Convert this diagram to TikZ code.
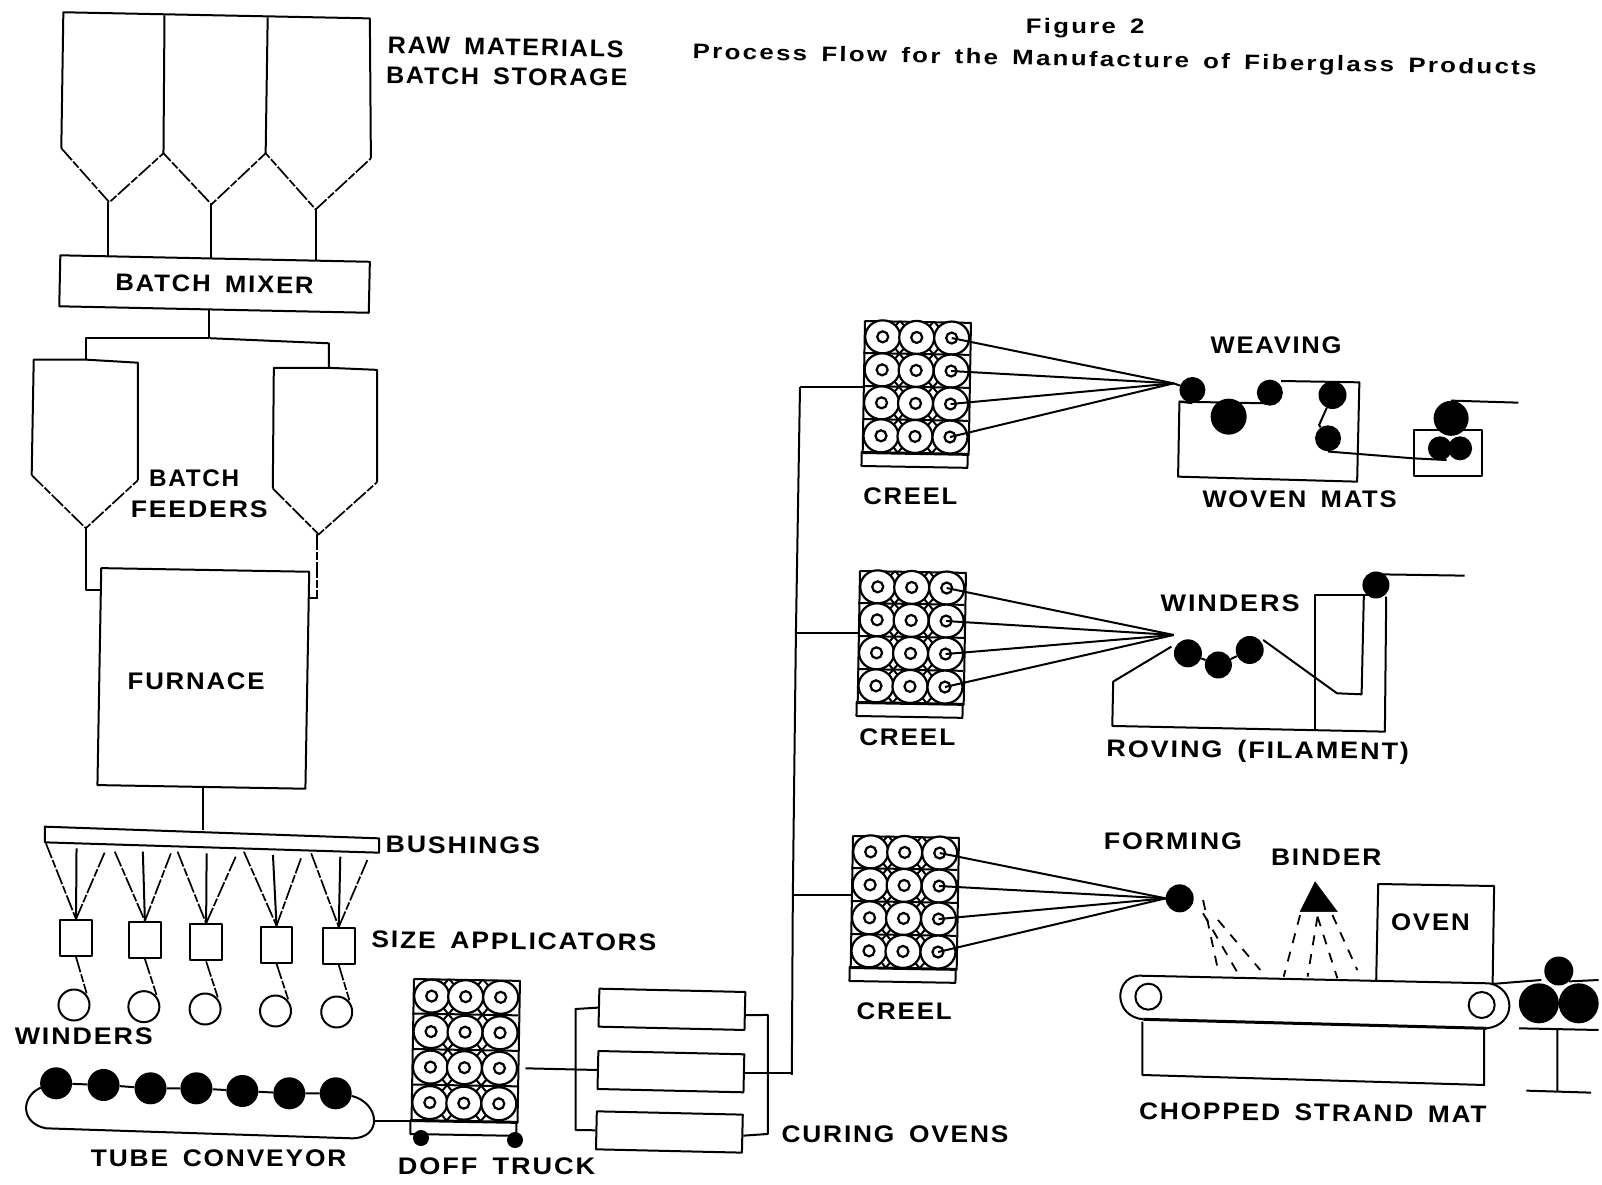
\documentclass[tikz,border=0pt]{standalone}
\usepackage{fontspec}
\usepackage{graphicx}
\usetikzlibrary{backgrounds,shapes.geometric}
\setmainfont{Liberation Sans}
\newfontfamily\lblfam{Liberation Sans}[LetterSpace=7,WordSpace=1.6]
\newfontfamily\ttlfam{Liberation Sans}[LetterSpace=9,WordSpace=1.5]
\newcommand\fw[2]{\resizebox{1.0217\dimexpr #1pt\relax}{\height}{#2}}
\newcommand\lbl[6]{\node[lbl,rotate=#4] (#1) at (#2,#3) {\fw{#5}{#6}};}
\tikzset{
  disp/.style={x=1.0217pt,y=-1.0217pt},
  cropa/.style={shift={(820,300)},x=.4476pt,y=-.3333pt},
  cropb/.style={shift={(820,810)},x=.4975pt,y=-.3333pt},
  cropc/.style={shift={(0,810)},x=.5102pt,y=-.3333pt},
  ln/.style={line width=2pt,line join=round},
  thick ln/.style={line width=3pt,line join=round},
  brk/.style={line width=1.7pt,dash pattern=on 16pt off 2pt on 8pt off 2pt},
  spray/.style={line width=1.8pt,dash pattern=on 10pt off 9pt},
  lbl/.style={inner sep=0pt,yshift=-1pt,font=\fontsize{24}{24}\lblfam\bfseries},
  ttl/.style={inner sep=0pt,font=\fontsize{21}{21}\ttlfam\bfseries},
  bx/.style={draw,ln,fill=white,rectangle,inner sep=0pt},
  spool/.style={draw,line width=2.2pt,ellipse,inner sep=0pt,minimum width=35pt,minimum height=33pt,fill=white},
  hub/.style={draw,line width=2.2pt,circle,inner sep=0pt,minimum size=11pt},
  roll/.style={circle,fill=black,inner sep=0pt,minimum size=#1},
  winder/.style={draw,ln,circle,inner sep=0pt,minimum size=31pt},
  sizebox/.style={bx,minimum width=31.6pt,minimum height=36pt},
  ovenbox/.style={bx,minimum width=146pt,minimum height=38pt,rotate=-1.3},
}
\newcommand\creel[4]{%
  \begin{scope}[shift={(#2,#3)},rotate=-1]
    \node[draw,ln,rectangle,rotate=-1,anchor=north west,inner sep=0pt,minimum width=106pt,minimum height=#4*4 pt] (#1) at (0,0) {};
    \draw[ln] (0,#4*4) rectangle (106,#4*4+14);
    \coordinate (#1base) at (0,#4*4+7);
    \foreach \ri in {1,2,3}{\draw[ln] (0,#4*\ri) -- (106,#4*\ri);}
    \begin{scope}
      \clip (0,0) rectangle (106,#4*4);
      \foreach \xi in {36,70}{\foreach \ri in {0,1,2,3,4}{
        \draw[ln] (\xi-6,#4*\ri-7) -- (\xi+6,#4*\ri+7) (\xi+6,#4*\ri-7) -- (\xi-6,#4*\ri+7);}}
    \end{scope}
    \foreach \ri in {1,2,3,4}{\foreach \ci/\xi in {1/19,2/53,3/88}{
      \node[spool] (#1-\ri-\ci) at (\xi,#4*\ri-#4/2) {};
      \node[hub] (#1-\ri-\ci h) at (\xi,#4*\ri-#4/2) {};}}
  \end{scope}}
\begin{document}
\begin{tikzpicture}[x=1pt,y=-1pt]
\useasboundingbox (0,0) rectangle (1602,1184);

% ---------- left column, coordinates as seen at 1568 wide
\begin{scope}[disp]
  \draw[ln] (60,145) -- (62,12) -- (362,18) -- (363,155);
  \draw[ln] (161,15) -- (160,150) (262,17) -- (260,150);
  \draw[brk] (60,145) -- (107,198) -- (160,150) -- (207,200) -- (260,150) -- (309,205) -- (363,155);
  \coordinate (ap1) at (106,198); \coordinate (ap2) at (207,200); \coordinate (ap3) at (309,205);
  \node[bx,rotate=-1.2,minimum width=309.6pt,minimum height=51pt] (mix) at (210,278) {};
  \lbl{mixt}{210}{277}{-.8}{194}{BATCH MIXER}
  \coordinate (mx) at (205,331); \coordinate (mxl) at (84,331); \coordinate (mxr) at (322,336);
  \draw[ln] (84,352) -- (33,352) -- (31,465) (84,352) -- (135,355) -- (135,470);
  \draw[brk] (31,465) -- (84,517) -- (135,470);
  \draw[ln] (322,360) -- (268,360) -- (267,478) (322,360) -- (369,362) -- (369,472);
  \draw[brk] (267,478) -- (312,523) -- (369,472);
  \coordinate (fl) at (84,352); \coordinate (fr) at (322,360);
  \coordinate (fla) at (84,517); \coordinate (fra) at (310,523);
  \coordinate (fle) at (84,577); \coordinate (fre) at (310,585);
  \node[bx,rotate=-1,minimum width=208pt,minimum height=217pt] (furn) at (199,664) {};
  \lbl{furnt}{192}{666}{0}{134}{FURNACE}
  \lbl{b1}{190}{467}{0}{88}{BATCH}
  \lbl{b2}{195}{497}{0}{134}{FEEDERS}
  \lbl{raw}{495}{45}{-1}{231}{RAW MATERIALS}
  \lbl{sto}{496}{74}{-.5}{236}{BATCH STORAGE}
  \node[ttl] (fig) at (1062,28) {\fw{116}{Figure 2}};
  \node[ttl,rotate=-1.1] (tit) at (1091,60) {\fw{826}{Process Flow for the Manufacture of Fiberglass Products}};
  \lbl{bus}{453}{826}{-.3}{151}{BUSHINGS}
  \lbl{siz}{503}{920}{-.6}{279}{SIZE APPLICATORS}
  \lbl{win}{82}{1013}{0}{135}{WINDERS}
  \lbl{tub}{214}{1133}{0}{250}{TUBE CONVEYOR}
  \lbl{dof}{486}{1140}{0}{193}{DOFF TRUCK}
  \lbl{cur}{876}{1109}{0}{222}{CURING OVENS}
  \lbl{cr1}{891}{485}{0}{92}{CREEL}
  \lbl{cr2}{888}{721}{0}{94}{CREEL}
  \lbl{cr3}{885}{989}{0}{93}{CREEL}
  \lbl{wea}{1249}{337}{0}{128}{WEAVING}
  \lbl{wov}{1272}{488}{0}{190}{WOVEN MATS}
  \lbl{wi2}{1204}{589}{0}{136}{WINDERS}
  \lbl{rov}{1231}{735}{-.5}{296}{ROVING (FILAMENT)}
  \lbl{frm}{1148}{822}{0}{135}{FORMING}
  \lbl{bnd}{1298}{838}{0}{108}{BINDER}
  \lbl{ovt}{1400}{902}{0}{77}{OVEN}
  \lbl{cho}{1285}{1088}{-.6}{340}{CHOPPED STRAND MAT}
  \coordinate (tr1) at (783,379); \coordinate (tr2) at (779,620);
  \coordinate (tr3) at (776,876); \coordinate (tr4) at (775,1052);
  \coordinate (bu) at (196,812);
\end{scope}

\begin{pgfonlayer}{background}
  \draw[ln] (ap1) -- (ap1 |- mix.center);
  \draw[ln] (ap2) -- (ap2 |- mix.center);
  \draw[ln] (ap3) -- (ap3 |- mix.center);
  \draw[ln] (mix.center -| mx) -- (mx);
  \draw[ln] (mx) -- (mxl) -- (fl);
  \draw[ln] (mx) -- (mxr) -- (fr);
  \draw[ln] (fla) -- (fle) -- (fle -| furn.center);
  \draw[brk] (fra) -- (fre) -- (fre -| furn.center);
  \draw[ln] (furn.center) -- (furn.center |- bu);
\end{pgfonlayer}

% ---------- creels and doff truck
\creel{ca}{864}{320}{33}
\creel{cb}{859}{570}{33}
\creel{cc}{852}{835}{33}
\creel{dt}{413}{978}{35.5}
\node[roll=16pt] (whl) at (421,1138) {};
\node[roll=16pt] (whr) at (515,1140) {};
\draw[ln] (tr1) -- (tr2) -- (tr3) -- (tr4);
\draw[ln] (tr1) -- (tr1 -| ca.west);
\draw[ln] (tr2) -- (tr2 -| cb.west);
\draw[ln] (tr3) -- (tr3 -| cc.west);

% ---------- bushings, applicators, winders, conveyor, curing ovens
\begin{scope}[cropc]
  \draw[ln] (88,50) -- (743,85) -- (743,128) -- (88,97) -- cycle;
  \node[sizebox] (sa1) at (149,384) {};
  \node[sizebox] (sa2) at (284,390) {};
  \node[sizebox] (sa3) at (404,397) {};
  \node[sizebox] (sa4) at (542,404) {};
  \node[sizebox] (sa5) at (664,408) {};
  \node[winder] (w1) at (145,585) {};
  \node[winder] (w2) at (282,590) {};
  \node[winder] (w3) at (402,597) {};
  \node[winder] (w4) at (540,603) {};
  \node[winder] (w5) at (660,606) {};
  \foreach \n/\ax/\ay/\bx/\by/\cx/\cy in {1/90/100/150/115/205/128, 2/225/125/280/125/335/130, 3/348/125/405/130/462/140, 4/478/125/535/135/590/145, 5/610/130/667/140/720/150}{
    \coordinate (fa\n) at (\ax,\ay); \coordinate (fb\n) at (\bx,\by); \coordinate (fc\n) at (\cx,\cy);
    \draw[brk] (fa\n) -- (sa\n.north);
    \draw[ln] (fb\n) -- (sa\n.north);
    \draw[brk] (fc\n) -- (sa\n.north);
    \draw[brk] (sa\n.south) -- ([xshift=1pt]w\n.north east);
  }
  \coordinate (p0) at (80,833); \coordinate (ce) at (735,932);
  \draw[ln] (p0) .. controls (40,860) and (40,940) .. (90,955) -- (690,985) .. controls (750,985) and (745,880) .. (690,858);
  \node[roll=32pt] (t1) at (110,820) {};
  \node[roll=32pt] (t2) at (203,825) {};
  \node[roll=32pt] (t3) at (295,835) {};
  \node[roll=32pt] (t4) at (385,835) {};
  \node[roll=32pt] (t5) at (475,843) {};
  \node[roll=32pt] (t6) at (567,850) {};
  \node[roll=32pt] (t7) at (658,850) {};
  \draw[ln] (t1) -- (t2) -- (t3) -- (t4) -- (t5) -- (t6) -- (t7) -- (690,858);
  \draw[ln] (ce) -- (ce -| dtbase);
  \node[ovenbox] (ov1) at (1317,598) {};
  \node[ovenbox] (ov2) at (1315,785) {};
  \node[ovenbox] (ov3) at (1312,966) {};
  \coordinate (dm) at (1030,775);
  \draw[ln] (dm) -- (ov2.west);
  \draw[ln] (ov1.west) -- (1128,597) -- (1128,960) -- (ov3.west);
  \draw[ln] ([yshift=-4pt]ov1.east) -- (1505,615) -- (1505,972) -- ([yshift=-2pt]ov3.east);
  \draw[ln] (ov2.east) -- (ov2.east -| tr4);
\end{scope}

% ---------- weaving and roving
\begin{scope}[cropa]
  \coordinate (cva) at (790,250);
  \foreach \r in {1,2,3,4}{\draw[ln] (ca-\r-3h.center) -- (cva);}
  \node[roll=26pt] (wv1) at (832,270) {};
  \node[roll=36pt] (wv2) at (913,350) {};
  \node[roll=26pt] (wv3) at (1005,278) {};
  \node[roll=28pt] (wv4) at (1145,285) {};
  \node[roll=26pt] (wv5) at (1135,415) {};
  \draw[ln] (cva) -- (wv1);
  \draw[ln] (wv1.south) -- (803,305) -- (800,530) -- (1200,545) -- (1205,247) -- (1030,243);
  \draw[ln] (803,305) -- (1000,310);
  \draw[ln] (wv4) -- (1115,375) -- (wv5);
  \node[roll=35pt] (pr1) at (1410,355) {};
  \node[draw,ln,rectangle,inner sep=0pt,minimum width=68pt,minimum height=46pt] (prb) at (1402,460) {};
  \node[roll=24pt] (pr2) at (1385,445) {};
  \node[roll=24pt] (pr3) at (1430,445) {};
  \coordinate (wout) at (1560,308);
  \draw[ln] (wv5.south) -- (1325,475) -- (1400,480);
  \draw[ln] (pr1.north) -- (wout);
  % roving
  \coordinate (cvb) at (790,1005);
  \foreach \r in {1,2,3,4}{\draw[ln] (cb-\r-3h.center) -- (cvb);}
  \node[roll=28pt] (ro1) at (822,1060) {};
  \node[roll=27pt] (ro2) at (890,1095) {};
  \node[roll=28pt] (ro3) at (960,1050) {};
  \node[roll=27pt] (ro4) at (1242,855) {};
  \draw[ln] (ro1) -- (ro2) -- (ro3);
  \draw[ln] (990,1020) -- (1155,1180) -- (1210,1183) -- (1215,885);
  \draw[ln] (785,1040) -- (655,1145) -- (653,1278) -- (1262,1295) -- (1265,890);
  \draw[ln] (1105,1288) -- (1105,885) -- (1225,885);
  \coordinate (rout) at (1440,827);
  \draw[ln] ([yshift=-3pt]ro4.north) -- (rout);
\end{scope}

% ---------- forming and chopped strand mat
\begin{scope}[cropb]
  \coordinate (cvc) at (695,265);
  \foreach \r in {1,2,3,4}{\draw[ln] (cc-\r-3h.center) -- (cvc);}
  \node[roll=28pt] (fm) at (723,265) {};
  \draw[fill=black] (995,215) -- (1040,305) -- (965,305) -- cycle;
  \draw[ln] (1118,510) -- (1122,222) -- (1355,228) -- (1352,520);
  \draw[spray] (770,270) -- (800,480);
  \draw[spray] (770,310) -- (840,490);
  \draw[spray] (800,330) -- (885,480);
  \draw[spray] (965,315) -- (932,500);
  \draw[spray] (1000,320) -- (980,500);
  \draw[spray] (1030,315) -- (1080,480);
  \draw[spray] (1000,320) -- (1040,505);
  \draw[ln] (640,497) -- (1345,520) .. controls (1400,535) and (1400,645) .. (1340,655);
  \draw[thick ln] (1340,655) -- (650,628);
  \draw[ln] (650,628) .. controls (590,620) and (590,505) .. (640,497);
  \node[winder,minimum size=26pt] (dr1) at (660,560) {};
  \node[winder,minimum size=26pt] (dr2) at (1330,585) {};
  \draw[ln] (648,635) -- (648,795) -- (1335,825) -- (1335,655);
  \node[roll=29pt] (nip) at (1485,483) {};
  \node[roll=40pt] (nl) at (1445,580) {};
  \node[roll=40pt] (nr) at (1525,580) {};
  \draw[ln] (1350,522) -- (1450,510);
  \coordinate (cout) at (1565,510);
  \draw[ln] (nip.south east) -- (cout);
  \draw[ln] (1405,655) -- (1565,660) (1482,660) -- (1482,845) (1420,842) -- (1550,848);
\end{scope}
\end{tikzpicture}
\end{document}
